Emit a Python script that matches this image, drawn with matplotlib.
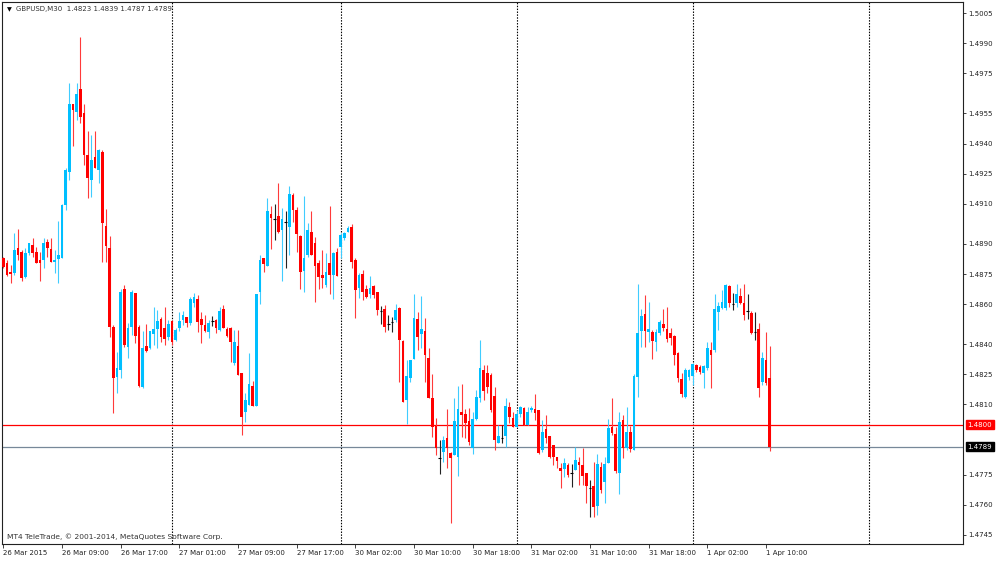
import matplotlib
matplotlib.use("Agg")
import matplotlib.pyplot as plt
import matplotlib.transforms as mtransforms
import numpy as np

# ---------------- data (GBPUSD M30) ----------------
opens = [
    1.48830, 1.48805, 1.48760, 1.48755, 1.48880, 1.48860, 1.48735, 1.48855, 1.48895, 1.48860,
    1.48820, 1.48820, 1.48910, 1.48875, 1.48810, 1.48825, 1.48830, 1.49095, 1.49258, 1.49598,
    1.49558, 1.49671, 1.49553, 1.49343, 1.49218, 1.49333, 1.49268, 1.49358, 1.48990, 1.48880,
    1.48487, 1.48237, 1.48272, 1.48675, 1.48387, 1.48487, 1.48655, 1.48487, 1.48187, 1.48392,
    1.48382, 1.48452, 1.48477, 1.48527, 1.48482, 1.48437, 1.48517, 1.48422, 1.48482, 1.48522,
    1.48537, 1.48507, 1.48607, 1.48625, 1.48527, 1.48497, 1.48462, 1.48517, 1.48522, 1.48472,
    1.48577, 1.48477, 1.48482, 1.48307, 1.48392, 1.48257, 1.48064, 1.48099, 1.48192, 1.48094,
    1.48660, 1.48830, 1.48790, 1.49050, 1.49025, 1.49040, 1.48970, 1.49010, 1.48985, 1.49143,
    1.49070, 1.48940, 1.48765, 1.48845, 1.48960, 1.48905, 1.48805, 1.48745, 1.48695, 1.48805,
    1.48745, 1.48860, 1.48885, 1.48930, 1.48960, 1.48985, 1.48820, 1.48680, 1.48750, 1.48675,
    1.48650, 1.48690, 1.48660, 1.48567, 1.48577, 1.48502, 1.48512, 1.48522, 1.48582, 1.48417,
    1.48124, 1.48232, 1.48327, 1.48527, 1.48452, 1.48467, 1.48332, 1.48132, 1.47994, 1.47834,
    1.47864, 1.47934, 1.47859, 1.47849, 1.47839, 1.48064, 1.48054, 1.48019, 1.47884, 1.48029,
    1.48132, 1.48272, 1.48257, 1.48247, 1.48142, 1.47909, 1.47934, 1.47944, 1.48089, 1.48034,
    1.47989, 1.48054, 1.48084, 1.47999, 1.48074, 1.48079, 1.48074, 1.47874, 1.47979, 1.47944,
    1.47899, 1.47839, 1.47784, 1.47779, 1.47799, 1.47759, 1.47774, 1.47814, 1.47799, 1.47759,
    1.47684, 1.47694, 1.47594, 1.47789, 1.47714, 1.47809, 1.47989, 1.47954, 1.47759, 1.48024,
    1.47884, 1.47964, 1.47874, 1.48237, 1.48467, 1.48552, 1.48462, 1.48462, 1.48412, 1.48457,
    1.48502, 1.48477, 1.48457, 1.48442, 1.48357, 1.48227, 1.48137, 1.48237, 1.48242, 1.48297,
    1.48287, 1.48257, 1.48282, 1.48372, 1.48372, 1.48562, 1.48582, 1.48582, 1.48690, 1.48602,
    1.48607, 1.48642, 1.48607, 1.48567, 1.48557, 1.48462, 1.48477, 1.48212, 1.48322, 1.48230,
]
highs = [
    1.48835, 1.48820, 1.48795, 1.48955, 1.48975, 1.48870, 1.48880, 1.48905, 1.48930, 1.48885,
    1.48860, 1.48930, 1.48925, 1.48930, 1.48870, 1.49015, 1.49100, 1.49278, 1.49701, 1.49598,
    1.49701, 1.49931, 1.49598, 1.49463, 1.49443, 1.49463, 1.49373, 1.49368, 1.49075, 1.48940,
    1.48497, 1.48362, 1.48675, 1.48695, 1.48507, 1.48670, 1.48655, 1.48497, 1.48467, 1.48502,
    1.48467, 1.48587, 1.48572, 1.48537, 1.48587, 1.48522, 1.48522, 1.48482, 1.48562, 1.48567,
    1.48537, 1.48635, 1.48655, 1.48645, 1.48562, 1.48547, 1.48522, 1.48542, 1.48527, 1.48587,
    1.48597, 1.48487, 1.48487, 1.48472, 1.48472, 1.48257, 1.48157, 1.48357, 1.48217, 1.48650,
    1.48845, 1.48830, 1.49128, 1.49090, 1.49100, 1.49203, 1.49080, 1.49065, 1.49188, 1.49153,
    1.49085, 1.48945, 1.49138, 1.49005, 1.49065, 1.48935, 1.48820, 1.48870, 1.48855, 1.49090,
    1.48860, 1.48880, 1.48955, 1.48960, 1.48990, 1.49000, 1.48830, 1.48755, 1.48770, 1.48695,
    1.48740, 1.48695, 1.48660, 1.48592, 1.48597, 1.48547, 1.48537, 1.48602, 1.48587, 1.48422,
    1.48322, 1.48322, 1.48650, 1.48562, 1.48640, 1.48532, 1.48382, 1.48252, 1.48034, 1.47924,
    1.47944, 1.48079, 1.47864, 1.48134, 1.48192, 1.48202, 1.48079, 1.48084, 1.48064, 1.48172,
    1.48422, 1.48297, 1.48297, 1.48257, 1.48187, 1.47999, 1.47999, 1.48134, 1.48114, 1.48064,
    1.48074, 1.48094, 1.48089, 1.48089, 1.48094, 1.48154, 1.48074, 1.48024, 1.48049, 1.47944,
    1.47899, 1.47839, 1.47809, 1.47834, 1.47809, 1.47804, 1.47889, 1.47839, 1.47884, 1.47759,
    1.47724, 1.47814, 1.47854, 1.47814, 1.47839, 1.48029, 1.48134, 1.47989, 1.48064, 1.48049,
    1.48089, 1.47994, 1.48252, 1.48700, 1.48577, 1.48645, 1.48612, 1.48472, 1.48477, 1.48522,
    1.48577, 1.48587, 1.48482, 1.48447, 1.48362, 1.48257, 1.48282, 1.48277, 1.48307, 1.48302,
    1.48297, 1.48297, 1.48412, 1.48412, 1.48650, 1.48612, 1.48670, 1.48700, 1.48695, 1.48655,
    1.48700, 1.48680, 1.48700, 1.48652, 1.48567, 1.48562, 1.48507, 1.48362, 1.48462, 1.48390,
]
lows = [
    1.48780, 1.48740, 1.48705, 1.48745, 1.48820, 1.48715, 1.48730, 1.48845, 1.48835, 1.48805,
    1.48715, 1.48780, 1.48835, 1.48810, 1.48755, 1.48705, 1.48830, 1.49070, 1.49218, 1.49388,
    1.49518, 1.49503, 1.49293, 1.49128, 1.49133, 1.49278, 1.49203, 1.48810, 1.48810, 1.48437,
    1.48059, 1.48157, 1.48232, 1.48387, 1.48332, 1.48447, 1.48407, 1.48187, 1.48182, 1.48362,
    1.48377, 1.48397, 1.48382, 1.48412, 1.48397, 1.48422, 1.48397, 1.48417, 1.48467, 1.48497,
    1.48487, 1.48497, 1.48587, 1.48462, 1.48407, 1.48462, 1.48432, 1.48492, 1.48457, 1.48467,
    1.48482, 1.48437, 1.48312, 1.48297, 1.48247, 1.47949, 1.48014, 1.48099, 1.48094, 1.48094,
    1.48602, 1.48760, 1.48790, 1.48875, 1.48920, 1.48955, 1.48715, 1.48780, 1.48845, 1.49010,
    1.48860, 1.48675, 1.48660, 1.48835, 1.48845, 1.48612, 1.48675, 1.48680, 1.48685, 1.48650,
    1.48625, 1.48740, 1.48830, 1.48920, 1.48960, 1.48780, 1.48532, 1.48630, 1.48622, 1.48630,
    1.48630, 1.48630, 1.48547, 1.48502, 1.48462, 1.48472, 1.48462, 1.48512, 1.48212, 1.48112,
    1.48004, 1.48212, 1.48327, 1.48372, 1.48382, 1.48212, 1.48132, 1.47939, 1.47849, 1.47754,
    1.47814, 1.47784, 1.47509, 1.47849, 1.47744, 1.47939, 1.47934, 1.47899, 1.47854, 1.48024,
    1.48114, 1.48124, 1.48157, 1.48064, 1.47874, 1.47909, 1.47909, 1.47889, 1.48009, 1.47989,
    1.47989, 1.48039, 1.47999, 1.47999, 1.48064, 1.48024, 1.47854, 1.47864, 1.47909, 1.47834,
    1.47799, 1.47784, 1.47684, 1.47739, 1.47739, 1.47689, 1.47774, 1.47699, 1.47699, 1.47609,
    1.47539, 1.47539, 1.47549, 1.47659, 1.47609, 1.47809, 1.47949, 1.47759, 1.47654, 1.47834,
    1.47874, 1.47864, 1.47874, 1.48137, 1.48387, 1.48387, 1.48412, 1.48327, 1.48367, 1.48447,
    1.48467, 1.48412, 1.48397, 1.48297, 1.48212, 1.48137, 1.48132, 1.48222, 1.48197, 1.48262,
    1.48252, 1.48182, 1.48272, 1.48182, 1.48362, 1.48472, 1.48577, 1.48572, 1.48587, 1.48572,
    1.48587, 1.48602, 1.48522, 1.48527, 1.48452, 1.48422, 1.48137, 1.48197, 1.48197, 1.47870,
]
closes = [
    1.48785, 1.48745, 1.48750, 1.48870, 1.48845, 1.48730, 1.48855, 1.48905, 1.48855, 1.48805,
    1.48805, 1.48905, 1.48880, 1.48810, 1.48820, 1.48845, 1.49095, 1.49268, 1.49598, 1.49568,
    1.49646, 1.49533, 1.49343, 1.49228, 1.49318, 1.49278, 1.49368, 1.49005, 1.48890, 1.48487,
    1.48232, 1.48282, 1.48660, 1.48397, 1.48482, 1.48660, 1.48442, 1.48192, 1.48382, 1.48367,
    1.48467, 1.48477, 1.48517, 1.48437, 1.48427, 1.48502, 1.48412, 1.48472, 1.48517, 1.48547,
    1.48507, 1.48625, 1.48635, 1.48512, 1.48497, 1.48467, 1.48507, 1.48517, 1.48482, 1.48567,
    1.48482, 1.48442, 1.48412, 1.48412, 1.48247, 1.48039, 1.48124, 1.48202, 1.48094, 1.48650,
    1.48820, 1.48800, 1.49065, 1.49030, 1.49025, 1.48960, 1.49025, 1.49010, 1.49148, 1.49070,
    1.48950, 1.48760, 1.48830, 1.48970, 1.48845, 1.48790, 1.48735, 1.48730, 1.48760, 1.48745,
    1.48855, 1.48740, 1.48945, 1.48955, 1.48980, 1.48810, 1.48670, 1.48745, 1.48660, 1.48635,
    1.48680, 1.48645, 1.48572, 1.48567, 1.48487, 1.48502, 1.48512, 1.48572, 1.48422, 1.48112,
    1.48242, 1.48322, 1.48532, 1.48437, 1.48477, 1.48347, 1.48132, 1.47989, 1.47884, 1.47834,
    1.47924, 1.47884, 1.47834, 1.48019, 1.48079, 1.48049, 1.48009, 1.47914, 1.48029, 1.48137,
    1.48282, 1.48167, 1.48187, 1.48074, 1.47924, 1.47944, 1.47934, 1.48094, 1.48039, 1.47989,
    1.48054, 1.48089, 1.47999, 1.48064, 1.48084, 1.48059, 1.47859, 1.47964, 1.47934, 1.47839,
    1.47839, 1.47819, 1.47769, 1.47809, 1.47749, 1.47759, 1.47824, 1.47799, 1.47744, 1.47694,
    1.47684, 1.47589, 1.47804, 1.47674, 1.47804, 1.47984, 1.47959, 1.47769, 1.48014, 1.47884,
    1.47964, 1.47879, 1.48242, 1.48457, 1.48542, 1.48467, 1.48477, 1.48417, 1.48462, 1.48512,
    1.48482, 1.48427, 1.48432, 1.48347, 1.48232, 1.48152, 1.48272, 1.48272, 1.48302, 1.48272,
    1.48262, 1.48292, 1.48382, 1.48347, 1.48577, 1.48592, 1.48612, 1.48695, 1.48607, 1.48602,
    1.48652, 1.48607, 1.48547, 1.48567, 1.48457, 1.48462, 1.48182, 1.48332, 1.48207, 1.47890,
]

# time axis labels (every 16 bars of 30 minutes)
time_labels = ["26 Mar 2015", "26 Mar 09:00", "26 Mar 17:00", "27 Mar 01:00",
               "27 Mar 09:00", "27 Mar 17:00", "30 Mar 02:00", "30 Mar 10:00",
               "30 Mar 18:00", "31 Mar 02:00", "31 Mar 10:00", "31 Mar 18:00",
               "1 Apr 02:00", "1 Apr 10:00"]
label_step = 16
# bar index of the first bar of each new day (day separators)
day_starts = [46, 92, 140, 188, 236]

price_ticks = [1.5005, 1.4990, 1.4975, 1.4955, 1.4940, 1.4925, 1.4910, 1.4890,
               1.4875, 1.4860, 1.4840, 1.4825, 1.4810, 1.4775, 1.4760, 1.4745]
level_line = 1.4800
bid_price = 1.4789
symbol = "GBPUSD,M30"

# ---------------- drawing ----------------
o = np.array(opens); h = np.array(highs); l = np.array(lows); c = np.array(closes)
n = len(o)
x = np.arange(n)

fig = plt.figure(figsize=(10, 5.61), dpi=100)
fig.patch.set_facecolor("white")
ax = fig.add_axes([0.002, 17 / 561, 0.961, 542 / 561])
ax.set_facecolor("white")

BULL = "#00BFFF"
BEAR = "#FF0000"
BULL_W = "#40CCFF"
BEAR_W = "#FF3A3A"

up = c > o
down = c < o
doji = c == o

hi = np.maximum(h, np.maximum(o, c))
lo = np.minimum(l, np.minimum(o, c))

# day separators
for d in day_starts:
    ax.axvline(d, color="black", lw=0.8, ls=(0, (1.3, 1.3)), zorder=1)

# level line and bid line
ax.axhline(level_line, color="#FF0000", lw=0.9, zorder=1)
ax.axhline(bid_price, color="#778899", lw=0.9, zorder=1)

# wicks
wc = np.where(up, BULL_W, np.where(down, BEAR_W, "#222222"))
ax.vlines(x, lo, hi, colors=list(wc), lw=0.8, zorder=2)

# bodies
bw = 0.72
ax.bar(x[up], (c - o)[up], bottom=o[up], width=bw, color=BULL, lw=0, zorder=3)
ax.bar(x[down], (o - c)[down], bottom=c[down], width=bw, color=BEAR, lw=0, zorder=3)
ax.hlines(o[doji], x[doji] - bw / 2, x[doji] + bw / 2, colors="black", lw=0.8, zorder=3)

ax.set_xlim(-0.35, 261.7)
ax.set_ylim(1.47405, 1.50105)

# y axis on the right
ax.yaxis.tick_right()
ax.set_yticks(price_ticks)
ax.set_yticklabels([f"{v:.4f}" for v in price_ticks])
ax.tick_params(axis="y", which="both", direction="out", length=2.5, width=0.6,
               pad=1.5, labelsize=5, colors="#222222")

# x axis
ax.set_xticks([i * label_step for i in range(len(time_labels))])
ax.set_xticklabels(time_labels)
for t in ax.get_xticklabels():
    t.set_horizontalalignment("left")
ax.tick_params(axis="x", direction="out", length=3, width=0.6, pad=1.5,
               labelsize=5, colors="#222222")

for s in ax.spines.values():
    s.set_color("#222222")
    s.set_linewidth(0.8)

# price labels on the right axis
trans = mtransforms.blended_transform_factory(ax.transAxes, ax.transData)
ax.text(1.0045, level_line, f"{level_line:.4f}", transform=trans, ha="left", va="center",
        fontsize=5, color="white",
        bbox=dict(boxstyle="square,pad=0.25", facecolor="#FF0000", edgecolor="#FF0000"))
ax.text(1.0045, bid_price, f"{bid_price:.4f}", transform=trans, ha="left", va="center",
        fontsize=5, color="white",
        bbox=dict(boxstyle="square,pad=0.25", facecolor="black", edgecolor="black"))

# header and copyright
fig.text(0.0065, 1 - 9.5 / 561, "\u25BC", fontsize=4.5, color="black", va="center", ha="left")
fig.text(0.016, 1 - 9.5 / 561,
         f"{symbol}  {opens[-1]:.4f} {highs[-1]:.4f} {lows[-1]:.4f} {closes[-1]:.4f}",
         fontsize=5, color="#333333", va="center", ha="left")
fig.text(0.007, 1 - 537 / 561, "MT4 TeleTrade, \u00A9 2001-2014, MetaQuotes Software Corp.",
         fontsize=5.4, color="#333333", va="center", ha="left")

fig.savefig("out.png", dpi=100, facecolor="white")
